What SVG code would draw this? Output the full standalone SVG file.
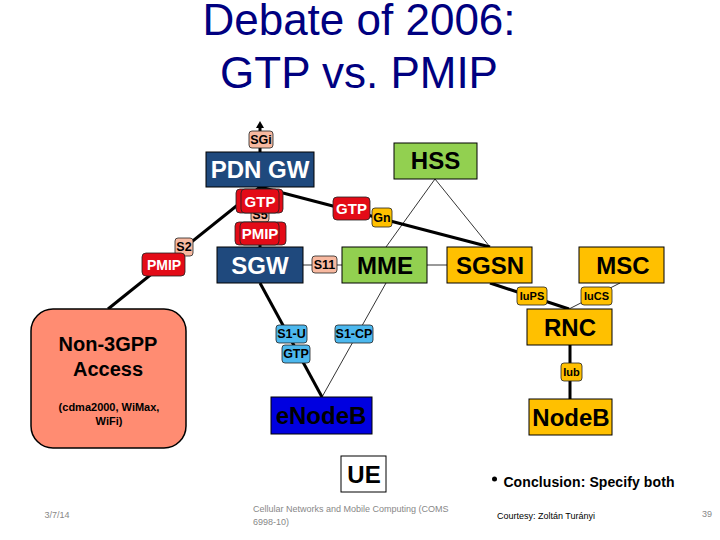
<svg xmlns="http://www.w3.org/2000/svg" width="720" height="540" viewBox="0 0 720 540">
<style>
text{font-family:"Liberation Sans",Arial,sans-serif;text-anchor:middle}
.title{font-size:44px;fill:#000080}
.n{stroke:#000;stroke-width:1}
.blue{fill:#1f497d}.green{fill:#92d050}.or{fill:#ffc000}
.big{font-size:24px;font-weight:bold;fill:#000}
.w{fill:#fff}
.lab{stroke:#222;stroke-width:.8}
.sal{fill:#f8b9a0}.red{fill:#e30b17}.cy{fill:#4db8ee}
.s{font-size:12.500px;font-weight:bold;fill:#000}
.r{font-size:15px;font-weight:bold;fill:#fff}
.thick{stroke:#000;stroke-width:3;fill:none}
.thin{stroke:#000;stroke-width:.8;fill:none}
.foot{font-size:9px;fill:#888}
</style>
<defs><marker id="a" markerUnits="userSpaceOnUse" markerWidth="8" markerHeight="8" refX="0" refY="4" orient="auto"><path d="M0 0L7 4L0 8Z" fill="#000"/></marker></defs>
<text class="title" x="359" y="35">Debate of 2006:</text>
<text class="title" x="359" y="88">GTP vs. PMIP</text>
<g id="connectors">
<path class="thick" d="M260 131V128" marker-end="url(#a)"/>
<path class="thick" d="M260 148V152M260 187V247"/>
<path class="thick" d="M260 187L490 247"/>
<path class="thick" d="M260 187L108 309"/>
<path class="thick" d="M260 283L322 397"/>
<path class="thick" d="M490 283L569 309M570 345V399"/>
<path class="thin" d="M435 179L386 247M435 179L490 247M386 283L322 397M620 283L569 309M303 265H342M427 265H447"/>
</g>
<g id="hss"><rect class="n green" x="394" y="143" width="83" height="36"/><text class="big" x="435.500" y="169">HSS</text></g>
<g id="pdngw"><rect class="n blue" x="206" y="152" width="108" height="35"/><text class="big w" x="260" y="178">PDN GW</text></g>
<g id="sgw"><rect class="n blue" x="217" y="247" width="86" height="36"/><text class="big w" x="260" y="274">SGW</text></g>
<g id="mme"><rect class="n green" x="342" y="247" width="85" height="36"/><text class="big" x="385" y="274">MME</text></g>
<g id="sgsn"><rect class="n or" x="447" y="247" width="85" height="36"/><text class="big" x="490" y="274">SGSN</text></g>
<g id="msc"><rect class="n or" x="579" y="247" width="85" height="36"/><text class="big" x="623" y="274">MSC</text></g>
<g id="rnc"><rect class="n or" x="527" y="309" width="85" height="36"/><text class="big" x="570" y="336">RNC</text></g>
<g id="nodeb"><rect class="n or" x="529" y="399" width="83" height="36"/><text class="big" x="571" y="426">NodeB</text></g>
<g id="enodeb"><rect class="n" fill="#0000e0" x="271" y="397" width="101" height="37"/><text class="big" x="321" y="424" fill="#000">eNodeB</text></g>
<g id="ue"><rect class="n" fill="#fff" x="341" y="456" width="45" height="36"/><text class="big" x="364" y="483">UE</text></g>
<g id="non3gpp"><rect x="31" y="309" width="155" height="139" rx="22" fill="#ff8c72" stroke="#000" stroke-width="1.500"/>
<text x="108" y="351" font-size="20" font-weight="bold">Non-3GPP</text><text x="108" y="376" font-size="20" font-weight="bold">Access</text>
<text x="109" y="411" font-size="11" font-weight="bold">(cdma2000, WiMax,</text><text x="109" y="425" font-size="11" font-weight="bold">WiFi)</text></g>
<g id="sgi"><rect class="lab sal" x="249" y="131" width="24" height="17" rx="3"/><text class="s" x="261" y="144">SGi</text></g>
<g id="s5"><rect class="lab sal" x="251" y="208" width="18" height="14" rx="3"/><text class="s" x="260" y="219">S5</text></g>
<g id="gtp-stack"><rect class="lab red" x="236" y="189" width="47" height="24" rx="4"/><rect class="lab red" x="241" y="189" width="38" height="24" rx="4"/><text class="r" x="260" y="207">GTP</text></g>
<g id="pmip-stack"><rect class="lab red" x="235" y="222" width="51" height="23" rx="4"/><rect class="lab red" x="240" y="222" width="39" height="23" rx="4"/><text class="r" x="260" y="239">PMIP</text></g>
<g id="gtp2"><rect class="lab red" x="333" y="197" width="37" height="23" rx="4"/><text class="r" x="351.500" y="214">GTP</text></g>
<g id="gn"><rect class="lab or" x="372" y="208" width="20" height="19" rx="3"/><text class="s" x="382" y="222">Gn</text></g>
<g id="s11"><rect class="lab sal" x="312" y="256" width="25" height="17" rx="3"/><text class="s" x="324.500" y="269">S11</text></g>
<g id="s2"><rect class="lab sal" x="175" y="238" width="18" height="18" rx="3"/><text class="s" x="184" y="251">S2</text></g>
<g id="pmip-left"><rect class="lab red" x="142" y="253" width="43" height="23" rx="4"/><text class="r" x="164" y="270" style="font-size:14px">PMIP</text></g>
<g id="iups"><rect class="lab or" x="517" y="287" width="30" height="18" rx="3"/><text class="s" x="532" y="300" style="font-size:11px">IuPS</text></g>
<g id="iucs"><rect class="lab or" x="581" y="287" width="31" height="18" rx="3"/><text class="s" x="596.500" y="300" style="font-size:11px">IuCS</text></g>
<g id="iub"><rect class="lab or" x="561" y="363" width="21" height="18" rx="3"/><text class="s" x="571.500" y="376" style="font-size:11px">Iub</text></g>
<g id="s1u"><rect class="lab cy" x="276" y="325" width="31" height="18" rx="3"/><text class="s" x="291.500" y="338">S1-U</text></g>
<g id="gtp3"><rect class="lab cy" x="282" y="345" width="28" height="18" rx="3"/><text class="s" x="296" y="358">GTP</text></g>
<g id="s1cp"><rect class="lab cy" x="335" y="325" width="38" height="18" rx="3"/><text class="s" x="354" y="338">S1-CP</text></g>
<circle cx="494.500" cy="479" r="2.500" fill="#000"/>
<text x="589" y="487" font-size="14" font-weight="bold" style="letter-spacing:.1px">Conclusion: Specify both</text>
<text x="546" y="519" font-size="9">Courtesy: Zoltán Turányi</text>
<text class="foot" x="57" y="518">3/7/14</text>
<text class="foot" x="253" y="512" style="text-anchor:start">Cellular Networks and Mobile Computing (COMS</text>
<text class="foot" x="253" y="525" style="text-anchor:start">6998-10)</text>
<text class="foot" x="707" y="517">39</text>
</svg>
